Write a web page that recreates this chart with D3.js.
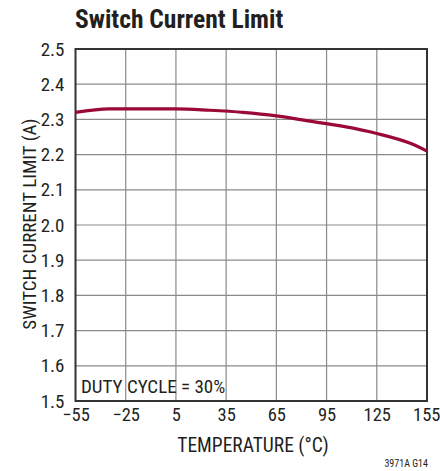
<!DOCTYPE html>
<html><head><meta charset="utf-8">
<script src="https://cdn.jsdelivr.net/npm/d3@7"></script>
<style>
body{margin:0;background:#fff;}
text{font-family:"Liberation Sans Narrow","Roboto Condensed","Liberation Sans",sans-serif;fill:#231f20;}
</style></head>
<body>
<svg id="c" width="440" height="471"></svg>
<script>
const temps = [-55, -35, 5, 25, 45, 65, 85, 105, 125, 145, 155];
const currents = [2.32, 2.33, 2.33, 2.326, 2.32, 2.31, 2.295, 2.28, 2.26, 2.232, 2.21];
const xTicks = [-55, -25, 5, 35, 65, 95, 125, 155];
const yTicks = [1.5, 1.6, 1.7, 1.8, 1.9, 2.0, 2.1, 2.2, 2.3, 2.4, 2.5];

const svg = d3.select("#c");
const L = 75.5, R = 427, T = 49, B = 401;
const x = d3.scaleLinear().domain([-55, 155]).range([L, R]);
const y = d3.scaleLinear().domain([1.5, 2.5]).range([B, T]);

// grid
svg.append("g").selectAll("line").data(xTicks.slice(1, -1)).join("line")
  .attr("x1", d => x(d)).attr("x2", d => x(d)).attr("y1", T).attr("y2", B)
  .attr("stroke", "#8a8a8a").attr("stroke-width", 1.2);
svg.append("g").selectAll("line").data(yTicks.slice(1, -1)).join("line")
  .attr("y1", d => y(d)).attr("y2", d => y(d)).attr("x1", L).attr("x2", R)
  .attr("stroke", "#8a8a8a").attr("stroke-width", 1.2);

// axes via d3
const xAxis = svg.append("g").attr("transform", `translate(0,${B})`)
  .call(d3.axisBottom(x).tickValues(xTicks).tickSize(0).tickPadding(7)
    .tickFormat(d => d < 0 ? "\u2212" + Math.abs(d) : String(d)));
xAxis.select(".domain").remove();
xAxis.selectAll("text").attr("font-size", 18.5);
xAxis.selectAll("text").filter(d => d === 155).attr("text-anchor", "end").attr("dx", 13);

const yAxis = svg.append("g").attr("transform", `translate(${L},0)`)
  .call(d3.axisLeft(y).tickValues(yTicks).tickSize(0).tickPadding(11).tickFormat(d3.format(".1f")));
yAxis.select(".domain").remove();
yAxis.selectAll("text").attr("font-size", 19);
svg.selectAll(".tick text").attr("fill", "#231f20");
svg.selectAll("g").attr("font-family", null).attr("font-size", null);

// frame
svg.append("rect").attr("x", L).attr("y", T).attr("width", R - L).attr("height", B - T)
  .attr("fill", "none").attr("stroke", "#333").attr("stroke-width", 2);

// line
svg.append("path").datum(temps.map((t, i) => [t, currents[i]]))
  .attr("d", d3.line().x(d => x(d[0])).y(d => y(d[1])).curve(d3.curveMonotoneX))
  .attr("fill", "none").attr("stroke", "#9b0a37").attr("stroke-width", 3.2);

// texts
svg.append("text").attr("x", 75).attr("y", 28).attr("font-size", 25.5).attr("font-weight", "bold")
  .text("Switch Current Limit");
svg.append("text").attr("x", 81).attr("y", 393).attr("font-size", 19).text("DUTY CYCLE = 30%");
svg.append("text").attr("x", 253).attr("y", 452).attr("text-anchor", "middle")
  .attr("font-size", 19.5).text("TEMPERATURE (\u00B0C)");
svg.append("text").attr("transform", `translate(36,224) rotate(-90)`)
  .attr("text-anchor", "middle").attr("font-size", 19).text("SWITCH CURRENT LIMIT  (A)");
svg.append("text").attr("x", 428).attr("y", 467).attr("text-anchor", "end")
  .attr("font-size", 10).text("3971A G14");
</script>
</body></html>
